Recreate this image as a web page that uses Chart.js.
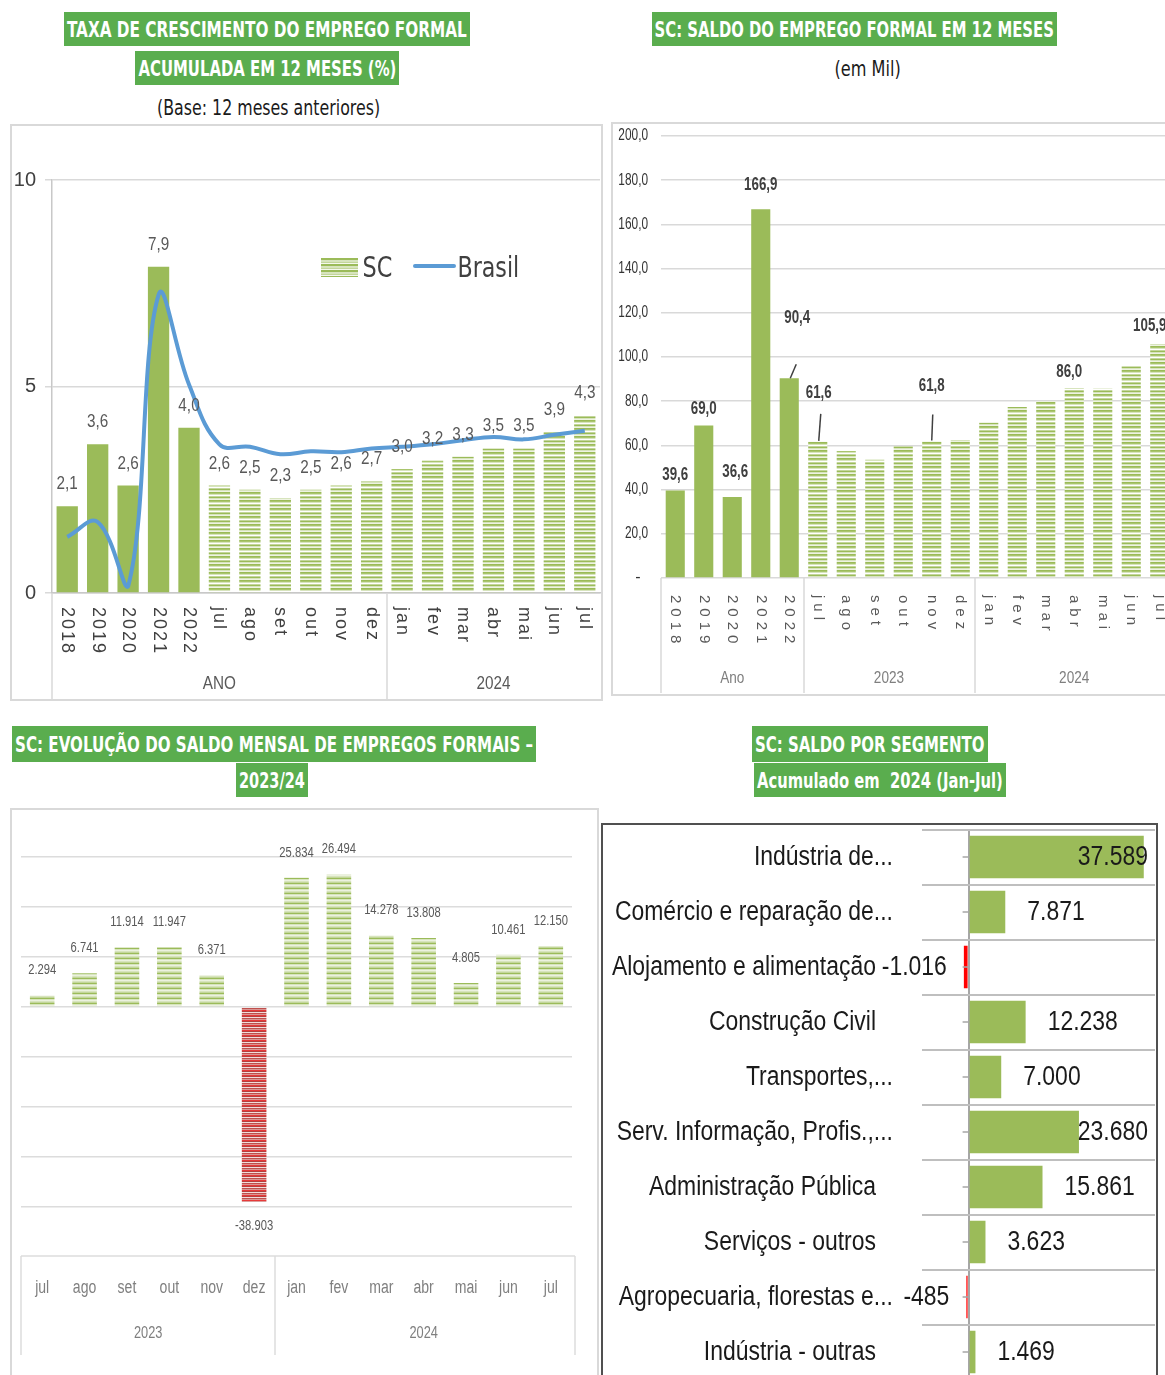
<!DOCTYPE html>
<html><head><meta charset="utf-8">
<script src="https://cdn.jsdelivr.net/npm/chart.js@4"></script>
<style>
html,body{margin:0;padding:0;background:#fff;}
body{width:1165px;height:1375px;overflow:hidden;position:relative;font-family:'Liberation Sans Narrow','DejaVu Sans Condensed','Arial Narrow',Arial,sans-serif;}
.ttl{position:absolute;background:#5aad4e;color:#fff;font-weight:bold;font-size:22px;display:flex;justify-content:center;align-items:center;white-space:nowrap;overflow:visible;}
.txt{position:absolute;color:#1a1a1a;display:flex;justify-content:center;align-items:center;white-space:nowrap;}
.ttl span,.txt span{flex:none;display:inline-block;transform-origin:center;}
.frame{position:absolute;box-sizing:border-box;border:2px solid #d9d9d9;}
canvas{position:absolute;}
</style></head>
<body>
<div class="ttl fit" style="left:64px;top:12px;width:406px;height:34px"><span>TAXA DE CRESCIMENTO DO EMPREGO FORMAL</span></div>
<div class="ttl fit" style="left:135px;top:51px;width:264px;height:34px"><span>ACUMULADA EM 12 MESES (%)</span></div>
<div class="txt fit" style="left:154px;top:93px;width:229px;height:28px;font-size:22px"><span>(Base: 12 meses anteriores)</span></div>

<div class="ttl fit" style="left:652px;top:12px;width:405px;height:34px"><span>SC: SALDO DO EMPREGO FORMAL EM 12 MESES</span></div>
<div class="txt fit" style="left:832px;top:54px;width:72px;height:28px;font-size:22px"><span>(em Mil)</span></div>

<div class="ttl fit" style="left:12px;top:726px;width:524px;height:36px"><span>SC: EVOLUÇÃO DO SALDO MENSAL DE EMPREGOS FORMAIS –</span></div>
<div class="ttl fit" style="left:236px;top:763px;width:72px;height:34px"><span>2023/24</span></div>

<div class="ttl fit" style="left:752px;top:726px;width:236px;height:36px"><span>SC: SALDO POR SEGMENTO</span></div>
<div class="ttl fit" style="left:754px;top:763px;width:252px;height:34px"><span>Acumulado em&nbsp; 2024 (Jan-Jul)</span></div>

<div class="frame" style="left:10px;top:124px;width:593px;height:577px"></div>
<div class="frame" style="left:611px;top:122px;width:570px;height:574px"></div>
<div class="frame" style="left:10px;top:808px;width:589px;height:580px"></div>
<div class="frame" style="left:601px;top:823px;width:557px;height:570px;border:2px solid #505050"></div>

<canvas id="c1" width="592" height="576" style="left:10px;top:124px"></canvas>
<canvas id="c2" width="570" height="573" style="left:611px;top:122px"></canvas>
<canvas id="c3" width="586" height="570" style="left:10px;top:808px"></canvas>
<canvas id="c4" width="556" height="560" style="left:601px;top:823px"></canvas>

<div style="position:absolute;left:321px;top:258px;width:37px;height:19px;background:repeating-linear-gradient(to bottom,#9bbb59 0 2px,#d7e4bd 2px 4px,#c3d69b 4px 5px,#f4f8ec 5px 6px)"></div>
<div class="txt fit" style="left:359px;top:252px;width:36px;height:30px;font-size:29px;color:#404040"><span>SC</span></div>
<div style="position:absolute;left:413px;top:264px;width:43px;height:4px;background:#5b9bd5;border-radius:2px"></div>
<div class="txt fit" style="left:454px;top:252px;width:68px;height:30px;font-size:29px;color:#404040"><span>Brasil</span></div>

<script>
// ---------- DATA ----------
const cats1 = ['2018','2019','2020','2021','2022','jul','ago','set','out','nov','dez','jan','fev','mar','abr','mai','jun','jul'];
const groups1 = ['ANO','2024'];
const groupSizes1 = [11, 7];
const sc1 = [2.1,3.6,2.6,7.9,4.0,2.6,2.5,2.3,2.5,2.6,2.7,3.0,3.2,3.3,3.5,3.5,3.9,4.3];
const brasil1 = [1.36,1.72,0.16,7.22,5.05,3.6,3.54,3.36,3.43,3.41,3.5,3.54,3.6,3.7,3.78,3.72,3.83,3.93];
const ticks1 = [0,5,10];

const cats2 = ['2018','2019','2020','2021','2022','jul','ago','set','out','nov','dez','jan','fev','mar','abr','mai','jun','jul'];
const groups2 = ['Ano','2023','2024'];
const groupSizes2 = [5, 6, 7];
const saldo12 = [39.6,69.0,36.6,166.9,90.4,61.6,57.5,53.5,59.6,61.8,62.5,70.2,77.4,80.0,86.0,85.8,95.8,105.9];
const saldo12Labeled = [1,1,1,1,1,1,0,0,0,1,0,0,0,0,1,0,0,1];
const ticks2 = [0,20,40,60,80,100,120,140,160,180,200];

const cats3 = ['jul','ago','set','out','nov','dez','jan','fev','mar','abr','mai','jun','jul'];
const groups3 = ['2023','2024'];
const groupSizes3 = [6, 7];
const mensal = [2294,6741,11914,11947,6371,-38903,25834,26494,14278,13808,4805,10461,12150];

const cats4 = ['Indústria de...','Comércio e reparação de...','Alojamento e alimentação','Construção Civil','Transportes,...','Serv. Informação, Profis.,...','Administração Pública','Serviços - outros','Agropecuaria, florestas e...','Indústria - outras'];
const segmento = [37589,7871,-1016,12238,7000,23680,15861,3623,-485,1469];

// ---------- HELPERS ----------
const F = "Arial,'Liberation Sans',sans-serif";
Chart.defaults.font.family = F;
function fmtDec(v){ return v.toFixed(1).replace('.',','); }
function fmtInt(v){ const s=String(Math.abs(Math.round(v))).replace(/\B(?=(\d{3})+(?!\d))/g,'.'); return (v<0?'-':'')+s; }
function stripe(colors){ const c=document.createElement('canvas'); c.width=4; c.height=colors.length; const g=c.getContext('2d'); colors.forEach((col,i)=>{g.fillStyle=col; g.fillRect(0,i,4,1);}); return g.createPattern(c,'repeat'); }
const stripeA = stripe(['#9bbb59','#a9c56d','#d7e4bd','#ffffff','#c3d69b','#9bbb59','#d7e4bd','#eef3e2']);
const stripeG = stripe(['#9bbb59','#d7e4bd','#ebf1de','#d7e4bd','#c3d69b']);
const stripeR = stripe(['#c0504d','#d99694','#e83a3a','#b5403d','#f2dcdb']);
// condensed text: draws s at (x,y) squeezed horizontally by sx, optionally rotated
function T(ctx,s,x,y,align,sx,rot){ ctx.save(); ctx.translate(x,y); if(rot) ctx.rotate(rot); ctx.scale(sx,1); ctx.textAlign=align; ctx.fillText(s,0,0); ctx.restore(); }

function catAxis(o){
  return {id:'catAxis', afterDraw(chart){
    const ctx=chart.ctx, xs=chart.scales.x, a=chart.chartArea;
    const p=i=>xs.getPixelForValue(i);
    ctx.save();
    ctx.fillStyle=o.color; ctx.font=o.font; ctx.textBaseline='middle';
    if(o.spacing) ctx.letterSpacing=o.spacing;
    o.labels.forEach((t,i)=>{
      if(o.rotate) T(ctx,t,p(i),o.labelY,'left',o.sx,Math.PI/2);
      else T(ctx,t,p(i),o.labelY,'center',o.sx);
    });
    ctx.letterSpacing='0px';
    let start=0; const xsep=[];
    ctx.fillStyle=o.groupColor; ctx.font=o.groupFont;
    o.groups.forEach((g,k)=>{
      const end=start+o.sizes[k]-1;
      xsep.push(start===0 ? a.left : (p(start-1)+p(start))/2);
      T(ctx,g,(p(start)+p(end))/2,o.groupY,'center',o.gsx);
      start=end+1;
    });
    if(o.rightX!==undefined) xsep.push(o.rightX);
    ctx.strokeStyle=o.sepColor; ctx.lineWidth=o.sepWidth||1.5;
    xsep.forEach(x=>{ctx.beginPath(); ctx.moveTo(Math.round(x),o.sepTop); ctx.lineTo(Math.round(x),o.sepBottom); ctx.stroke();});
    if(o.topLine){ ctx.beginPath(); ctx.moveTo(o.topLine[0],o.topLine[2]); ctx.lineTo(o.topLine[1],o.topLine[2]); ctx.stroke(); }
    ctx.restore();
  }};
}
function barLabels(o){
  return {id:'barLabels', afterDatasetsDraw(chart){
    const ctx=chart.ctx, meta=chart.getDatasetMeta(o.ds), data=chart.data.datasets[o.ds].data;
    ctx.save(); ctx.font=o.font; ctx.fillStyle=o.color; ctx.textBaseline='middle';
    meta.data.forEach((el,i)=>{
      if(o.show && !o.show[i]) return;
      const v=data[i];
      const adj=(o.adjust&&o.adjust[i])||[0, v>=0?-o.gap:o.gap];
      T(ctx,o.fmt(v), el.x+adj[0], el.y+adj[1],'center',o.sx);
      if(o.leaders && o.leaders[i]){ const L=o.leaders[i]; ctx.strokeStyle=o.leaderColor; ctx.lineWidth=1.5; ctx.beginPath(); ctx.moveTo(el.x+L[0],el.y+L[1]); ctx.lineTo(el.x+L[2],el.y+L[3]); ctx.stroke(); }
    });
    ctx.restore();
  }};
}
const base = {responsive:false, animation:false, devicePixelRatio:1, plugins:{legend:{display:false}, tooltip:{enabled:false}}};

// ---------- CHART 1 ----------
new Chart(document.getElementById('c1'), {
  data:{labels:cats1, datasets:[
    {type:'line', label:'Brasil', data:brasil1, borderColor:'#5b9bd5', borderWidth:4, tension:0.4, pointRadius:0, order:0},
    {type:'bar', label:'SC', data:sc1, backgroundColor:c=>c.dataIndex<5?'#9bbb59':stripeA, barPercentage:0.7, categoryPercentage:1, order:1}
  ]},
  options:{...base,
    layout:{padding:{left:0,right:2,top:56,bottom:0}},
    scales:{
      x:{grid:{display:false}, border:{color:'#c8c8c8',width:1.5}, ticks:{display:false}, afterFit(s){s.height=107;}},
      y:{min:0,max:10,afterBuildTicks(s){s.ticks=ticks1.map(v=>({value:v}));}, ticks:{color:'#404040',font:{size:20},padding:9},
         grid:{color:'#d9d9d9',lineWidth:1.5,tickLength:7}, border:{color:'#c8c8c8',width:1.5}, afterFit(s){s.width=42;}}
    }},
  plugins:[
    barLabels({ds:1, font:'18px '+F, color:'#595959', gap:22, fmt:fmtDec, sx:0.85}),
    catAxis({labels:cats1, rotate:true, labelY:483, font:'18px '+F, color:'#404040', spacing:'2px', sx:1,
      groups:groups1, sizes:groupSizes1, groupY:560, groupFont:'18px '+F, groupColor:'#595959', gsx:0.85,
      sepColor:'#d9d9d9', sepTop:469, sepBottom:576})
  ]
});

// ---------- CHART 2 ----------
const yTicks2 = {id:'yTicks2', afterDraw(chart){
  const ctx=chart.ctx, ys=chart.scales.y, a=chart.chartArea;
  ctx.save(); ctx.font='16px '+F; ctx.fillStyle='#333333'; ctx.textBaseline='middle';
  ticks2.forEach(v=>{ if(v===0) T(ctx,'-',a.left-23,ys.getPixelForValue(v),'center',1); else T(ctx,fmtDec(v),a.left-13,ys.getPixelForValue(v),'right',0.74); });
  ctx.restore();
}};
new Chart(document.getElementById('c2'), {
  type:'bar',
  data:{labels:cats2, datasets:[{label:'Saldo', data:saldo12, backgroundColor:c=>c.dataIndex<5?'#9bbb59':stripeA, barPercentage:0.67, categoryPercentage:1}]},
  options:{...base,
    layout:{padding:{left:0,right:7,top:14,bottom:0}},
    scales:{
      x:{grid:{display:false}, border:{display:false}, ticks:{display:false}, afterFit(s){s.height=117;}},
      y:{min:0,max:200,afterBuildTicks(s){s.ticks=ticks2.map(v=>({value:v}));}, ticks:{display:false},
         grid:{color:'#d9d9d9',lineWidth:1.5,drawTicks:false}, border:{display:false}, afterFit(s){s.width=50;}}
    }},
  plugins:[
    yTicks2,
    barLabels({ds:0, font:'bold 18px '+F, color:'#404040', gap:17, fmt:fmtDec, sx:0.74, show:saldo12Labeled, leaderColor:'#404040',
      adjust:{0:[0,-15],1:[0,-16],2:[3,-25],3:[0,-24],4:[8,-60],5:[1,-49],9:[0,-55],14:[-5,-16],17:[-10,-18]},
      leaders:{4:[1,0,7,-14],5:[1,-1,3,-28],9:[0,-1,1,-27]}}),
    catAxis({labels:cats2, rotate:true, labelY:473, font:'15px '+F, color:'#595959', spacing:'5px', sx:1,
      groups:groups2, sizes:groupSizes2, groupY:556, groupFont:'17px '+F, groupColor:'#7f7f7f', gsx:0.8,
      sepColor:'#d9d9d9', sepTop:456, sepBottom:571})
  ]
});

// ---------- CHART 3 ----------
new Chart(document.getElementById('c3'), {
  type:'bar',
  data:{labels:cats3, datasets:[{label:'Saldo mensal', data:mensal, backgroundColor:c=>c.raw<0?stripeR:stripeG, barPercentage:0.58, categoryPercentage:1}]},
  options:{...base,
    layout:{padding:{left:0,right:24,top:49,bottom:0}},
    scales:{
      x:{grid:{display:false}, border:{display:false}, ticks:{display:false}, afterFit(s){s.height=171;}},
      y:{min:-40000,max:30000,ticks:{stepSize:10000,display:false}, grid:{color:'#dcdcdc',lineWidth:1.5,drawTicks:false}, border:{display:false}, afterFit(s){s.width=11;}}
    }},
  plugins:[
    barLabels({ds:0, font:'14px '+F, color:'#595959', gap:25, fmt:fmtInt, sx:0.8}),
    catAxis({labels:cats3, rotate:false, labelY:480, font:'18px '+F, color:'#7f7f7f', sx:0.78,
      groups:groups3, sizes:groupSizes3, groupY:526, groupFont:'16px '+F, groupColor:'#7f7f7f', gsx:0.8,
      sepColor:'#dcdcdc', sepTop:448, sepBottom:547, rightX:565, topLine:[11,565,448]})
  ]
});

// ---------- CHART 4 ----------
const SX4 = 0.85;
const segPlugin = {id:'seg', afterDraw(chart){
  const ctx=chart.ctx, ys=chart.scales.y, xs=chart.scales.x, a=chart.chartArea, meta=chart.getDatasetMeta(0);
  const x0=xs.getPixelForValue(0);
  ctx.save();
  ctx.font='27px '+F; ctx.textBaseline='middle'; ctx.fillStyle='#1a1a1a';
  cats4.forEach((t,i)=>{
    const y=ys.getPixelForValue(i);
    T(ctx,t, a.left-46+(t.endsWith('...')?17:0), y+1,'right',SX4);
    ctx.strokeStyle='#a6a6a6'; ctx.lineWidth=1.5; ctx.beginPath(); ctx.moveTo(x0-6,y); ctx.lineTo(x0,y); ctx.stroke();
  });
  meta.data.forEach((el,i)=>{
    const v=segmento[i], s=fmtInt(v), w=ctx.measureText(s).width*SX4;
    if(v>=0) T(ctx,s, Math.min(el.x+22, a.right-7-w), el.y+1,'left',SX4);
    else T(ctx,s, el.x-17, el.y+1,'right',SX4);
  });
  ctx.restore();
}};
new Chart(document.getElementById('c4'), {
  type:'bar',
  data:{labels:cats4, datasets:[{label:'Saldo', data:segmento, backgroundColor:c=>c.raw<0?'#ff0000':'#9bbb59', barPercentage:0.77, categoryPercentage:1}]},
  options:{...base, indexAxis:'y',
    layout:{padding:{left:0,right:2,top:6.5,bottom:3.5}},
    scales:{
      x:{min:-10000,max:40000,ticks:{display:false,stepSize:10000}, grid:{color:c=>c.tick&&c.tick.value===0?'#a6a6a6':'rgba(0,0,0,0)',lineWidth:2,drawTicks:false}, border:{display:false}, afterFit(s){s.height=0;}},
      y:{ticks:{display:false}, grid:{color:'#bfbfbf',lineWidth:2,drawTicks:false,offset:true}, border:{display:false}, afterFit(s){s.width=321;}}
    }},
  plugins:[segPlugin]
});

// fit HTML texts to their boxes
document.querySelectorAll('.fit').forEach(el=>{
  const sp=el.querySelector('span'); const w=sp.offsetWidth; const target=el.clientWidth-6;
  if(w>0) sp.style.transform='scaleX('+(target/w)+')';
});
</script>
</body></html>
